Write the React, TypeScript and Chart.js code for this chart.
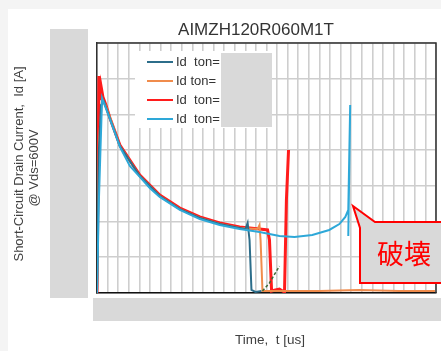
import { useEffect, useRef } from "react";
import { Chart, registerables } from "chart.js";

Chart.register(...registerables);

// Time [us] and drain current [A]
const tealTime = [0, 0.09, 0.19, 0.33, 0.52, 1.08, 2.02, 2.96, 3.91, 4.85, 5.79, 6.73, 7.01, 7.11, 7.2, 7.29, 7.48, 7.76];
const tealId = [0, 80.1, 105.3, 107, 100.8, 82.3, 65.5, 54.3, 47, 42, 38.6, 36.4, 35.8, 39.2, 29.7, 1.7, 0.6, 1.1];

const tailTime = [7.81, 8.14, 8.61];
const tailId = [1.1, 5.6, 15.1];

const orangeTime = [0, 0.09, 0.24, 0.38, 0.61, 1.08, 2.02, 2.96, 3.91, 4.85, 5.79, 6.73, 7.58, 7.67, 7.72, 7.81, 8.61, 10.49, 12.38, 14.26, 15.95];
const orangeId = [0, 85.7, 108, 105.8, 98.6, 82.3, 65.5, 54.3, 47, 42, 38.6, 36.4, 35.8, 38.1, 29.7, 1.1, 1.1, 1.1, 1.7, 1.1, 1.1];

const redTime = [0, 0.09, 0.14, 0.19, 0.28, 0.42, 0.61, 1.08, 2.02, 2.96, 3.91, 4.85, 5.79, 6.73, 7.67, 8.05, 8.14, 8.24, 8.42, 8.61, 8.75, 8.85, 8.94, 9.04];
const redId = [0, 121.5, 108, 115.9, 109.8, 105.3, 98, 82.9, 66.1, 54.9, 47.6, 42.6, 39.2, 37, 35.8, 35.3, 29.7, 1.1, 1.7, 2.2, 1.1, 0.6, 52.1, 80.1];

const blueTime = [0, 0.09, 0.24, 0.38, 0.61, 1.08, 1.55, 2.02, 2.49, 2.96, 3.91, 4.85, 5.79, 6.73, 7.67, 8.61, 9.32, 10.16, 10.96, 11.44, 11.72, 11.86, 11.95, 11.86];
const blueId = [0, 52.1, 109.2, 104.7, 97.4, 81.8, 71.1, 65, 58.8, 53.8, 46.5, 41.4, 38.1, 35.8, 34.2, 31.9, 31.4, 32.5, 35.3, 38.6, 42.6, 46.5, 105.3, 31.9];

const legendLabels = ["Id  ton=", "Id ton=", "Id  ton=", "Id  ton="];
const seriesColors = ["#2c6d8a", "#f08c4c", "#ff1c1c", "#2ea8d8"];

const TITLE = "AIMZH120R060M1T";
const Y_TITLE_1 = "Short-Circuit Drain Current,  Id [A]";
const Y_TITLE_2 = "@ Vds=600V";
const X_TITLE = "Time,  t [us]";
const CALLOUT = "破壊";

const FONT = "'Liberation Sans', Arial, sans-serif";
const GRAY = "#d9d9d9";

const pts = (t: number[], v: number[]) => t.map((x, i) => ({ x, y: v[i] }));

const decor = {
  id: "decor",
  beforeDraw(chart: any) {
    const ctx = chart.ctx;
    ctx.save();
    ctx.fillStyle = "#f4f4f4";
    ctx.fillRect(0, 0, chart.width, chart.height);
    ctx.fillStyle = "#ffffff";
    ctx.fillRect(8, 9, chart.width - 8, chart.height - 9);
    ctx.restore();
  },
  afterDraw(chart: any) {
    const ctx = chart.ctx;
    const a = chart.chartArea;
    ctx.save();
    // top and right frame
    ctx.strokeStyle = "#303030";
    ctx.lineWidth = 1.5;
    ctx.beginPath();
    ctx.moveTo(a.left, a.top);
    ctx.lineTo(a.right, a.top);
    ctx.lineTo(a.right, a.bottom);
    ctx.stroke();

    // legend
    ctx.fillStyle = "#ffffff";
    ctx.fillRect(135, 51, 137, 77);
    const ds = chart.data.datasets.filter((d: any) => d.label);
    ctx.font = `13px ${FONT}`;
    ctx.textBaseline = "middle";
    ds.forEach((d: any, i: number) => {
      const y = 62 + i * 19;
      ctx.strokeStyle = d.borderColor;
      ctx.lineWidth = 2;
      ctx.beginPath();
      ctx.moveTo(147, y);
      ctx.lineTo(173, y);
      ctx.stroke();
      ctx.fillStyle = "#333333";
      ctx.textAlign = "left";
      ctx.fillText(d.label, 176, y);
    });
    ctx.fillStyle = GRAY;
    ctx.fillRect(221, 53, 51, 74);

    // masked tick-label areas
    ctx.fillRect(50, 29, 38, 269);
    ctx.fillRect(93, 298, 348, 23);

    // title
    ctx.fillStyle = "#333333";
    ctx.font = `17px ${FONT}`;
    ctx.textAlign = "center";
    ctx.textBaseline = "middle";
    ctx.fillText(TITLE, 256, 30);

    // x title
    ctx.font = `13.5px ${FONT}`;
    ctx.fillStyle = "#404040";
    ctx.fillText(X_TITLE, 270, 340);

    // y title
    ctx.font = `13px ${FONT}`;
    ctx.save();
    ctx.translate(19, 164);
    ctx.rotate(-Math.PI / 2);
    ctx.fillText(Y_TITLE_1, 0, 0);
    ctx.restore();
    ctx.save();
    ctx.translate(34, 168);
    ctx.rotate(-Math.PI / 2);
    ctx.fillText(Y_TITLE_2, 0, 0);
    ctx.restore();

    // callout
    ctx.beginPath();
    ctx.moveTo(353, 206);
    ctx.lineTo(375, 222);
    ctx.lineTo(446, 222);
    ctx.lineTo(446, 283);
    ctx.lineTo(360, 283);
    ctx.lineTo(360, 228);
    ctx.closePath();
    ctx.fillStyle = GRAY;
    ctx.fill();
    ctx.strokeStyle = "#ff0000";
    ctx.lineWidth = 2;
    ctx.stroke();
    ctx.fillStyle = "#ff0000";
    ctx.font = `27px 'Noto Sans CJK JP', sans-serif`;
    ctx.textAlign = "left";
    ctx.textBaseline = "middle";
    ctx.fillText(CALLOUT, 377, 254);
    ctx.restore();
  },
};

export default function App() {
  const ref = useRef<HTMLCanvasElement>(null);
  useEffect(() => {
    const gridOpts = { color: "#cecece", lineWidth: 1.6, drawTicks: false };
    const chart = new Chart(ref.current!, {
      type: "line",
      data: {
        datasets: [
          { label: legendLabels[0], data: pts(tealTime, tealId), borderColor: seriesColors[0], borderWidth: 2, order: 1 },
          { label: legendLabels[1], data: pts(orangeTime, orangeId), borderColor: seriesColors[1], borderWidth: 2, order: 2 },
          { label: legendLabels[2], data: pts(redTime, redId), borderColor: seriesColors[2], borderWidth: 3, order: 3 },
          { label: legendLabels[3], data: pts(blueTime, blueId), borderColor: seriesColors[3], borderWidth: 2, order: 0 },
          { label: "", data: pts(tailTime, tailId), borderColor: "#3d6b35", borderWidth: 1.5, borderDash: [3, 2], order: 1 },
        ],
      },
      options: {
        responsive: false,
        animation: false,
        layout: { padding: { left: 97, top: 43, right: 5, bottom: 58 } },
        elements: { point: { radius: 0 }, line: { tension: 0 } },
        plugins: { legend: { display: false }, title: { display: false }, tooltip: { enabled: false } },
        scales: {
          x: {
            type: "linear",
            min: 0,
            max: 16,
            ticks: { display: false, stepSize: 0.5 },
            grid: gridOpts,
            border: { color: "#111111", width: 1.5 },
          },
          y: {
            type: "linear",
            min: 0,
            max: 140,
            ticks: { display: false, stepSize: 20 },
            grid: gridOpts,
            border: { color: "#303030", width: 1.5 },
          },
        },
      },
      plugins: [decor],
    });
    return () => chart.destroy();
  }, []);
  return (
    <div style={{ position: "absolute", left: 0, top: 0, width: 441, height: 351 }}>
      <canvas ref={ref} width={441} height={351} style={{ display: "block" }} />
    </div>
  );
}
